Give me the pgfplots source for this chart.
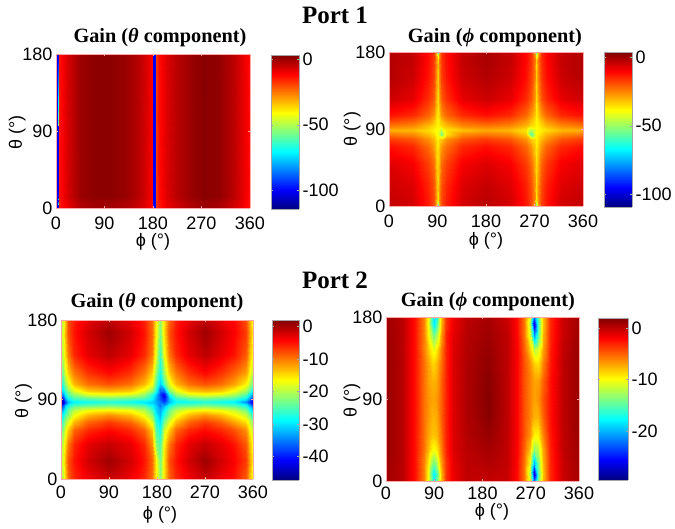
\documentclass[border=0pt]{standalone}
\usepackage{fontspec}
\setmainfont{Liberation Sans}
\newfontfamily\tnr{Liberation Serif}
\usepackage{pgfplots}
\pgfplotsset{compat=1.18}
\pgfplotsset{
  panel/.style={
    scale only axis, width=#1, view={0}{90},
    xmin=0, xmax=360, ymin=0, ymax=180,
    xtick={0,90,180,270,360}, ytick={0,90,180},
    axis on top, colormap/jet,
    /pgf/number format/assume math mode=true,
    tick align=inside, major tick length=2pt,
    axis line style={draw=red!35!white, line width=0.4pt},
    every tick/.style={draw=red!35!white, line width=0.3pt},
    tick label style={font=\fontsize{18}{20}\selectfont},
    every axis title shift=0pt,
    title style={font=\tnr\bfseries\fontsize{20.3}{22}\selectfont, anchor=center, yshift=-3pt},
    xlabel={ϕ (°)}, ylabel={θ (°)},
    label style={font=\fontsize{18}{20}\selectfont, anchor=center},
  },
  cbar/.style={
    scale only axis, view={0}{90}, colormap/jet, axis on top,
    xmin=0, xmax=1, xtick=\empty,
    ymajorticks=true, yticklabel pos=right, tick align=inside,
    major tick length=2pt,
    axis line style={draw=gray!70, line width=0.4pt},
    every tick/.style={draw=gray!70, line width=0.3pt},
    tick label style={font=\fontsize{18}{20}\selectfont},
    anchor=south west,
  },
}
\newcommand{\gtitle}[1]{Gain (\textit{#1} component)}
\begin{document}
\begin{tikzpicture}[x=1pt,y=1pt]
\useasboundingbox (0,0) rectangle (675,529);
\node[font=\tnr\bfseries\fontsize{25}{28}\selectfont] at (335,514) {Port 1};
\node[font=\tnr\bfseries\fontsize{25}{28}\selectfont] at (335,249) {Port 2};

% port 1, theta
\begin{axis}[panel=194pt, height=154pt, at={(56pt,321pt)}, anchor=south west,
  title={\gtitle{θ}}, title style={at={(axis description cs:0.536,1.123)}},
  xticklabel style={yshift=-5pt},
  xlabel style={at={(axis description cs:0.5,-0.22)}},
  ylabel style={at={(axis description cs:-0.2,0.49)}},
  point meta min=-114, point meta max=3]
\addplot3[surf, shader=interp, mesh/cols=25] table[row sep=\\] {
x y z\\
0 0 -100\\3.5 0 -100\\5 0 -15\\10 0 -13\\25 0 -8\\45 0 -2.5\\70 0 -0.5\\100 0 -0.5\\130 0 -2\\150 0 -5\\165 0 -8\\175 0 -11\\179.5 0 -14\\180 0 -100\\185.5 0 -100\\186.5 0 -18\\192 0 -14\\205 0 -9.5\\225 0 -5.5\\250 0 -2\\275 0 0\\300 0 -1\\330 0 -6\\350 0 -11\\360 0 -14\\
0 8 -100\\3.5 8 -100\\5 8 -15\\10 8 -13\\25 8 -8\\45 8 -2.5\\70 8 -0.5\\100 8 -0.5\\130 8 -2\\150 8 -5\\165 8 -8\\175 8 -11\\179.5 8 -14\\180 8 -100\\185.5 8 -100\\186.5 8 -18\\192 8 -14\\205 8 -9.5\\225 8 -5.5\\250 8 -2\\275 8 0\\300 8 -1\\330 8 -6\\350 8 -11\\360 8 -14\\
0 12 -100\\3.5 12 -100\\5 12 -14\\10 12 -12\\25 12 -6\\45 12 -0.5\\70 12 1.5\\100 12 1.5\\130 12 0\\150 12 -3\\165 12 -6.5\\175 12 -10\\179.5 12 -13\\180 12 -100\\185.5 12 -100\\186.5 12 -18\\192 12 -13\\205 12 -8\\225 12 -3.5\\250 12 0\\275 12 2\\300 12 1\\330 12 -4\\350 12 -10\\360 12 -13\\
0 180 -100\\3.5 180 -100\\5 180 -14\\10 180 -12\\25 180 -6\\45 180 -0.5\\70 180 1.5\\100 180 1.5\\130 180 0\\150 180 -3\\165 180 -6.5\\175 180 -10\\179.5 180 -13\\180 180 -100\\185.5 180 -100\\186.5 180 -18\\192 180 -13\\205 180 -8\\225 180 -3.5\\250 180 0\\275 180 2\\300 180 1\\330 180 -4\\350 180 -10\\360 180 -13\\
};
\end{axis}
\begin{axis}[cbar, width=28pt, height=154pt, at={(271pt,320pt)}, ymin=-114, ymax=3, ytick={-100,-50,0}, yticklabels={-100,-50,0}, point meta min=-114, point meta max=3]
\addplot3[surf, shader=interp, mesh/cols=2] table[row sep=\\] {
x y z\\
0 -114 -114\\1 -114 -114\\
0 3 3\\1 3 3\\
};
\end{axis}

% port 1, phi
\begin{axis}[panel=194pt, height=154pt, at={(389pt,323pt)}, anchor=south west,
  title={\gtitle{ϕ}}, title style={at={(axis description cs:0.546,1.11)}},
  xticklabel style={yshift=-5pt},
  xlabel style={at={(axis description cs:0.5,-0.227)}},
  ylabel style={at={(axis description cs:-0.19,0.5)}},
  point meta min=-109, point meta max=3.6]
\addplot3[surf, shader=interp, mesh/cols=21] table[row sep=\\] {
x y z\\
0 0 -4\\45 0 -6\\75 0 -14\\84 0 -19\\88 0 -32\\90 0 -60\\92 0 -32\\96 0 -19\\105 0 -14\\135 0 -6\\180 0 -3\\225 0 -6\\255 0 -13\\264 0 -18\\270 0 -32\\273 0 -60\\276 0 -32\\282 0 -18\\291 0 -13\\320 0 -6\\360 0 -4\\
0 2 -4\\45 2 -6\\75 2 -14\\84 2 -19\\88 2 -29\\90 2 -50\\92 2 -29\\96 2 -19\\105 2 -14\\135 2 -6\\180 2 -3\\225 2 -6\\255 2 -13\\264 2 -18\\270 2 -28\\273 2 -50\\276 2 -28\\282 2 -18\\291 2 -13\\320 2 -6\\360 2 -4\\
0 8 -4\\45 8 -6\\75 8 -14\\84 8 -19\\88 8 -27\\90 8 -36\\92 8 -27\\96 8 -19\\105 8 -14\\135 8 -6\\180 8 -3\\225 8 -6\\255 8 -13\\264 8 -18\\270 8 -26\\273 8 -36\\276 8 -26\\282 8 -18\\291 8 -13\\320 8 -6\\360 8 -4\\
0 25 -5\\45 25 -7\\75 25 -15\\84 25 -20\\88 25 -28\\90 25 -34\\92 25 -28\\96 25 -20\\105 25 -15\\135 25 -7\\180 25 -4\\225 25 -7\\255 25 -14\\264 25 -19\\270 25 -27\\273 25 -34\\276 25 -27\\282 25 -19\\291 25 -14\\320 25 -7\\360 25 -5\\
0 50 -7\\45 50 -10\\75 50 -18\\84 50 -23\\88 50 -31\\90 50 -35\\92 50 -31\\96 50 -23\\105 50 -18\\135 50 -10\\180 50 -7\\225 50 -10\\255 50 -17\\264 50 -22\\270 50 -30\\273 50 -35\\276 50 -30\\282 50 -22\\291 50 -17\\320 50 -10\\360 50 -7\\
0 70 -12\\45 70 -15\\75 70 -23\\84 70 -28\\88 70 -33\\90 70 -37\\92 70 -33\\96 70 -28\\105 70 -23\\135 70 -15\\180 70 -12\\225 70 -15\\255 70 -22\\264 70 -27\\270 70 -33\\273 70 -37\\276 70 -33\\282 70 -27\\291 70 -22\\320 70 -15\\360 70 -12\\
0 78 -17\\45 78 -20\\75 78 -27\\84 78 -31\\88 78 -35\\90 78 -38\\92 78 -35\\96 78 -33\\105 78 -27\\135 78 -20\\180 78 -17\\225 78 -20\\255 78 -27\\264 78 -33\\270 78 -35\\273 78 -38\\276 78 -35\\282 78 -31\\291 78 -27\\320 78 -20\\360 78 -17\\
0 84 -24\\45 84 -26\\75 84 -32\\84 84 -35\\88 84 -38\\90 84 -40\\92 84 -44\\96 84 -54\\105 84 -36\\135 84 -26\\180 84 -24\\225 84 -26\\255 84 -33\\264 84 -58\\270 84 -42\\273 84 -38\\276 84 -37\\282 84 -35\\291 84 -31\\320 84 -26\\360 84 -24\\
0 89 -30\\45 89 -31\\75 89 -35\\84 89 -38\\88 89 -39\\90 89 -40\\92 89 -40\\96 89 -45\\105 89 -36\\135 89 -32\\180 89 -29\\225 89 -31\\255 89 -36\\264 89 -48\\270 89 -41\\273 89 -40\\276 89 -38\\282 89 -37\\291 89 -35\\320 89 -31\\360 89 -30\\
0 94 -24\\45 94 -26\\75 94 -32\\84 94 -35\\88 94 -37\\90 94 -38\\92 94 -37\\96 94 -35\\105 94 -32\\135 94 -26\\180 94 -24\\225 94 -26\\255 94 -31\\264 94 -35\\270 94 -37\\273 94 -38\\276 94 -37\\282 94 -35\\291 94 -31\\320 94 -26\\360 94 -24\\
0 100 -17\\45 100 -20\\75 100 -26\\84 100 -31\\88 100 -35\\90 100 -38\\92 100 -35\\96 100 -31\\105 100 -26\\135 100 -20\\180 100 -17\\225 100 -20\\255 100 -26\\264 100 -31\\270 100 -35\\273 100 -38\\276 100 -35\\282 100 -31\\291 100 -26\\320 100 -20\\360 100 -17\\
0 106 -12\\45 106 -15\\75 106 -22\\84 106 -27\\88 106 -33\\90 106 -37\\92 106 -33\\96 106 -27\\105 106 -22\\135 106 -15\\180 106 -12\\225 106 -15\\255 106 -22\\264 106 -27\\270 106 -33\\273 106 -37\\276 106 -33\\282 106 -27\\291 106 -22\\320 106 -15\\360 106 -12\\
0 125 -5\\45 125 -8\\75 125 -16\\84 125 -21\\88 125 -29\\90 125 -35\\92 125 -29\\96 125 -21\\105 125 -16\\135 125 -8\\180 125 -5\\225 125 -8\\255 125 -15\\264 125 -20\\270 125 -28\\273 125 -35\\276 125 -28\\282 125 -20\\291 125 -15\\320 125 -8\\360 125 -5\\
0 150 -2\\45 150 -5\\75 150 -13\\84 150 -18\\88 150 -26\\90 150 -33\\92 150 -26\\96 150 -18\\105 150 -13\\135 150 -5\\180 150 -2\\225 150 -5\\255 150 -12\\264 150 -17\\270 150 -25\\273 150 -33\\276 150 -25\\282 150 -17\\291 150 -12\\320 150 -5\\360 150 -2\\
0 172 -2\\45 172 -4\\75 172 -12\\84 172 -17\\88 172 -25\\90 172 -34\\92 172 -25\\96 172 -17\\105 172 -12\\135 172 -4\\180 172 -1\\225 172 -4\\255 172 -11\\264 172 -16\\270 172 -24\\273 172 -34\\276 172 -24\\282 172 -16\\291 172 -11\\320 172 -4\\360 172 -2\\
0 178 -2\\45 178 -4\\75 178 -12\\84 178 -17\\88 178 -28\\90 178 -50\\92 178 -28\\96 178 -17\\105 178 -12\\135 178 -4\\180 178 -1\\225 178 -4\\255 178 -11\\264 178 -16\\270 178 -28\\273 178 -50\\276 178 -28\\282 178 -16\\291 178 -11\\320 178 -4\\360 178 -2\\
0 180 -2\\45 180 -4\\75 180 -12\\84 180 -17\\88 180 -32\\90 180 -60\\92 180 -32\\96 180 -17\\105 180 -12\\135 180 -4\\180 180 -1\\225 180 -4\\255 180 -11\\264 180 -16\\270 180 -32\\273 180 -60\\276 180 -32\\282 180 -16\\291 180 -11\\320 180 -4\\360 180 -2\\
};
\end{axis}
\begin{axis}[cbar, width=28pt, height=155pt, at={(604pt,322pt)}, ymin=-109, ymax=3.6, ytick={-100,-50,0}, yticklabels={-100,-50,0}, point meta min=-109, point meta max=3.6]
\addplot3[surf, shader=interp, mesh/cols=2] table[row sep=\\] {
x y z\\
0 -109 -109\\1 -109 -109\\
0 3.6 3.6\\1 3.6 3.6\\
};
\end{axis}

% port 2, theta
\begin{axis}[panel=192pt, height=159pt, at={(61pt,50pt)}, anchor=south west,
  title={\gtitle{θ}}, title style={at={(axis description cs:0.5,1.126)}},
  xticklabel style={yshift=-3pt},
  xlabel style={at={(axis description cs:0.516,-0.226)}},
  ylabel style={at={(axis description cs:-0.196,0.49)}},
  point meta min=-47.2, point meta max=2]
\addplot3[surf, shader=interp, mesh/cols=23] table[row sep=\\] {
x y z\\
0 0 -20.5\\3 0 -19.5\\7 0 -14.5\\13 0 -9\\25 0 -6\\50 0 -3.5\\90 0 -1.5\\130 0 -3.5\\155 0 -6\\170 0 -9.5\\178 0 -16\\186 0 -22\\194 0 -15\\202 0 -9\\215 0 -6\\240 0 -3.5\\270 0 -1.5\\300 0 -3.5\\325 0 -5\\347 0 -8.5\\353 0 -12.5\\358 0 -16.5\\360 0 -18.5\\
0 20 -19\\3 20 -18\\7 20 -13\\13 20 -8\\25 20 -5\\50 20 -2\\90 20 0.5\\130 20 -2\\155 20 -5\\170 20 -9\\178 20 -16\\186 20 -23\\194 20 -15\\202 20 -8\\215 20 -5\\240 20 -2\\270 20 0.5\\300 20 -2\\325 20 -4\\347 20 -7\\353 20 -11\\358 20 -15\\360 20 -17\\
0 40 -20\\3 40 -19\\7 40 -15\\13 40 -10\\25 40 -6\\50 40 -3\\90 40 -1.5\\130 40 -3\\155 40 -6\\170 40 -11\\178 40 -22\\186 40 -25\\194 40 -16\\202 40 -10\\215 40 -6\\240 40 -3\\270 40 -1.5\\300 40 -3\\325 40 -5\\347 40 -8.5\\353 40 -12.5\\358 40 -16\\360 40 -18\\
0 55 -23\\3 55 -22\\7 55 -18\\13 55 -14\\25 55 -9\\50 55 -6\\90 55 -4.5\\130 55 -6\\155 55 -9\\170 55 -14\\178 55 -25\\186 55 -28\\194 55 -19\\202 55 -14\\215 55 -9\\240 55 -6\\270 55 -4.5\\300 55 -6\\325 55 -8\\347 55 -11\\353 55 -15\\358 55 -19\\360 55 -21\\
0 65 -26\\3 65 -25\\7 65 -21\\13 65 -18\\25 65 -13\\50 65 -9\\90 65 -7\\130 65 -9\\155 65 -13\\170 65 -18\\178 65 -27\\186 65 -30\\194 65 -23\\202 65 -18\\215 65 -13\\240 65 -9\\270 65 -7\\300 65 -9\\325 65 -12\\347 65 -15\\353 65 -18\\358 65 -22\\360 65 -24\\
0 72 -29\\3 72 -28\\7 72 -25\\13 72 -22\\25 72 -17\\50 72 -13\\90 72 -11\\130 72 -13\\155 72 -17\\170 72 -22\\178 72 -29\\186 72 -32\\194 72 -27\\202 72 -22\\215 72 -17\\240 72 -13\\270 72 -11\\300 72 -13\\325 72 -16\\347 72 -19\\353 72 -22\\358 72 -26\\360 72 -28\\
0 78 -33\\3 78 -32\\7 78 -28\\13 78 -24\\25 78 -20\\50 78 -17\\90 78 -16\\130 78 -17\\155 78 -20\\170 78 -25\\178 78 -31\\186 78 -33\\194 78 -29\\202 78 -24\\215 78 -20\\240 78 -17\\270 78 -16\\300 78 -17\\325 78 -19\\347 78 -23\\353 78 -27\\358 78 -30\\360 78 -32\\
0 83 -38\\3 83 -36\\7 83 -31\\13 83 -27\\25 83 -24\\50 83 -23\\90 83 -22\\130 83 -23\\155 83 -24\\170 83 -28\\178 83 -31\\186 83 -35\\194 83 -32\\202 83 -27\\215 83 -24\\240 83 -23\\270 83 -22\\300 83 -23\\325 83 -24\\347 83 -27\\353 83 -31\\358 83 -35\\360 83 -37\\
0 87 -46\\3 87 -44\\7 87 -38\\13 87 -32\\25 87 -29\\50 87 -28\\90 87 -27\\130 87 -28\\155 87 -30\\170 87 -31\\178 87 -33\\186 87 -35\\194 87 -38\\202 87 -32\\215 87 -28\\240 87 -28\\270 87 -27\\300 87 -28\\325 87 -29\\347 87 -34\\353 87 -38\\358 87 -42\\360 87 -44\\
0 90 -42\\3 90 -40\\7 90 -34\\13 90 -29\\25 90 -26\\50 90 -25\\90 90 -24\\130 90 -25\\155 90 -26\\170 90 -29\\178 90 -33\\186 90 -37\\194 90 -40\\202 90 -32\\215 90 -27\\240 90 -25\\270 90 -24\\300 90 -25\\325 90 -26\\347 90 -30\\353 90 -34\\358 90 -38\\360 90 -40\\
0 95 -35\\3 95 -34\\7 95 -29\\13 95 -25\\25 95 -22\\50 95 -19\\90 95 -18\\130 95 -19\\155 95 -22\\170 95 -27\\178 95 -32\\186 95 -38\\194 95 -42\\202 95 -29\\215 95 -22\\240 95 -19\\270 95 -18\\300 95 -19\\325 95 -21\\347 95 -25\\353 95 -29\\358 95 -33\\360 95 -35\\
0 100 -31\\3 100 -30\\7 100 -26\\13 100 -22\\25 100 -18\\50 100 -14\\90 100 -13\\130 100 -14\\155 100 -18\\170 100 -22\\178 100 -28\\186 100 -36\\194 100 -36\\202 100 -23\\215 100 -18\\240 100 -14\\270 100 -13\\300 100 -14\\325 100 -17\\347 100 -21\\353 100 -24\\358 100 -28\\360 100 -30\\
0 108 -27\\3 108 -26\\7 108 -22\\13 108 -18\\25 108 -13\\50 108 -9.5\\90 108 -8\\130 108 -9.5\\155 108 -13\\170 108 -17\\178 108 -25\\186 108 -31\\194 108 -25\\202 108 -18\\215 108 -13\\240 108 -9.5\\270 108 -8\\300 108 -9.5\\325 108 -12\\347 108 -16\\353 108 -19\\358 108 -23\\360 108 -25\\
0 120 -23.5\\3 120 -22.5\\7 120 -18\\13 120 -14\\25 120 -10\\50 120 -6.5\\90 120 -4.5\\130 120 -6.5\\155 120 -10\\170 120 -14\\178 120 -22\\186 120 -28\\194 120 -21\\202 120 -14\\215 120 -10\\240 120 -6.5\\270 120 -4.5\\300 120 -6.5\\325 120 -9\\347 120 -12\\353 120 -15.5\\358 120 -19.5\\360 120 -21.5\\
0 140 -20\\3 140 -19\\7 140 -15\\13 140 -10\\25 140 -6\\50 140 -3\\90 140 -1\\130 140 -3\\155 140 -6\\170 140 -10\\178 140 -18\\186 140 -26\\194 140 -17\\202 140 -10\\215 140 -6\\240 140 -3\\270 140 -1\\300 140 -3\\325 140 -5\\347 140 -8.5\\353 140 -12.5\\358 140 -16\\360 140 -18\\
0 165 -19\\3 165 -18\\7 165 -13\\13 165 -8\\25 165 -5\\50 165 -2\\90 165 0.5\\130 165 -2\\155 165 -5\\170 165 -9\\178 165 -16\\186 165 -23\\194 165 -15\\202 165 -8\\215 165 -5\\240 165 -2\\270 165 0.5\\300 165 -2\\325 165 -4\\347 165 -7\\353 165 -11\\358 165 -15\\360 165 -17\\
0 180 -20\\3 180 -19\\7 180 -14\\13 180 -8\\25 180 -5.5\\50 180 -3\\90 180 -1\\130 180 -3\\155 180 -5.5\\170 180 -9.5\\178 180 -16\\186 180 -22\\194 180 -15\\202 180 -9\\215 180 -5.5\\240 180 -3\\270 180 -1\\300 180 -3\\325 180 -4.5\\347 180 -8\\353 180 -12\\358 180 -16\\360 180 -18\\
};
\end{axis}
\begin{axis}[cbar, width=27pt, height=160pt, at={(272pt,49pt)}, ymin=-47.2, ymax=2, ytick={-40,-30,-20,-10,0}, yticklabels={-40,-30,-20,-10,0}, point meta min=-47.2, point meta max=2]
\addplot3[surf, shader=interp, mesh/cols=2] table[row sep=\\] {
x y z\\
0 -47.2 -47.2\\1 -47.2 -47.2\\
0 2 2\\1 2 2\\
};
\end{axis}

% port 2, phi
\begin{axis}[panel=193pt, height=164pt, at={(386pt,48pt)}, anchor=south west,
  title={\gtitle{ϕ}}, title style={at={(axis description cs:0.528,1.11)}},
  xticklabel style={yshift=-2pt},
  xlabel style={at={(axis description cs:0.549,-0.19)}},
  ylabel style={at={(axis description cs:-0.176,0.49)}},
  point meta min=-29.4, point meta max=1.9]
\addplot3[surf, shader=interp, mesh/cols=23] table[row sep=\\] {
x y z\\
0 0 0.8\\30 0 0.2\\55 0 -2.5\\70 0 -6\\78 0 -10\\85 0 -15\\90 0 -17\\95 0 -14\\102 0 -8\\112 0 -3.5\\125 0 -1.5\\150 0 -0.1\\190 0 -0.2\\225 0 -0.3\\245 0 -2.3\\258 0 -5.5\\268 0 -11\\276 0 -22\\284 0 -14\\292 0 -7.5\\305 0 -3.3\\330 0 -0.3\\360 0 0.7\\
0 8 0.9\\30 8 0.2\\55 8 -2.5\\70 8 -6\\78 8 -10\\85 8 -16\\90 8 -18\\95 8 -15\\102 8 -8\\112 8 -3.5\\125 8 -1.5\\150 8 -0.1\\190 8 0\\225 8 -0.3\\245 8 -2.3\\258 8 -5.5\\268 8 -12\\276 8 -27\\284 8 -15\\292 8 -8\\305 8 -3.3\\330 8 -0.3\\360 8 0.8\\
0 20 1\\30 20 0.2\\55 20 -2.5\\70 20 -6\\78 20 -9\\85 20 -13\\90 20 -14\\95 20 -12\\102 20 -7\\112 20 -3.5\\125 20 -1.3\\150 20 0\\190 20 0.4\\225 20 -0.2\\245 20 -2.2\\258 20 -5.5\\268 20 -10\\276 20 -20\\284 20 -14\\292 20 -7.5\\305 20 -3.2\\330 20 -0.3\\360 20 0.9\\
0 35 1.2\\30 35 0.2\\55 35 -2.5\\70 35 -5.5\\78 35 -7.5\\85 35 -9.5\\90 35 -10\\95 35 -9\\102 35 -6\\112 35 -3\\125 35 -1\\150 35 0.1\\190 35 0.8\\225 35 -0.1\\245 35 -2\\258 35 -5\\268 35 -8\\276 35 -13\\284 35 -12\\292 35 -7\\305 35 -3\\330 35 -0.1\\360 35 1\\
0 50 1.2\\30 50 0.2\\55 50 -2.5\\70 50 -5.5\\78 50 -7\\85 50 -8\\90 50 -8\\95 50 -7.5\\102 50 -5.5\\112 50 -3\\125 50 -1\\150 50 0.3\\190 50 1.2\\225 50 -0.1\\245 50 -2\\258 50 -4.5\\268 50 -6.5\\276 50 -9.5\\284 50 -9.5\\292 50 -6\\305 50 -2.8\\330 50 -0.1\\360 50 1.2\\
0 70 1.2\\30 70 0.2\\55 70 -2.5\\70 70 -5.5\\78 70 -6.5\\85 70 -7.5\\90 70 -7.5\\95 70 -7\\102 70 -5\\112 70 -3\\125 70 -1\\150 70 0.4\\190 70 1.6\\225 70 0\\245 70 -2\\258 70 -4.5\\268 70 -6\\276 70 -7.5\\284 70 -7.5\\292 70 -5\\305 70 -2.5\\330 70 0\\360 70 1.2\\
0 90 1.2\\30 90 0.2\\55 90 -2.5\\70 90 -5.5\\78 90 -6.5\\85 90 -7\\90 90 -7\\95 90 -6.5\\102 90 -5\\112 90 -3\\125 90 -1\\150 90 0.4\\190 90 1.7\\225 90 0\\245 90 -2\\258 90 -4.5\\268 90 -6\\276 90 -7\\284 90 -6.5\\292 90 -4.5\\305 90 -2.5\\330 90 0\\360 90 1.2\\
0 110 1.2\\30 110 0.2\\55 110 -2.5\\70 110 -5.5\\78 110 -6.8\\85 110 -7.5\\90 110 -7.5\\95 110 -7\\102 110 -5\\112 110 -3\\125 110 -1\\150 110 0.4\\190 110 1.6\\225 110 0\\245 110 -2\\258 110 -4.5\\268 110 -6\\276 110 -7\\284 110 -7\\292 110 -5\\305 110 -2.5\\330 110 0\\360 110 1.2\\
0 130 1.2\\30 130 0.2\\55 130 -2.5\\70 130 -5.5\\78 130 -7\\85 130 -8.5\\90 130 -8.5\\95 130 -7.5\\102 130 -5.5\\112 130 -3\\125 130 -1\\150 130 0.4\\190 130 1.4\\225 130 0\\245 130 -2\\258 130 -4.5\\268 130 -6.5\\276 130 -8.5\\284 130 -9\\292 130 -6\\305 130 -2.8\\330 130 0\\360 130 1.2\\
0 145 1.2\\30 145 0.2\\55 145 -2.5\\70 145 -6\\78 145 -8\\85 145 -10\\90 145 -10.5\\95 145 -9\\102 145 -6\\112 145 -3\\125 145 -1\\150 145 0.3\\190 145 1.2\\225 145 0\\245 145 -2\\258 145 -5\\268 145 -8.5\\276 145 -12\\284 145 -11\\292 145 -7\\305 145 -3\\330 145 -0.1\\360 145 1.2\\
0 160 1.1\\30 160 0.2\\55 160 -2.5\\70 160 -6\\78 160 -9.5\\85 160 -13\\90 160 -14\\95 160 -12\\102 160 -7\\112 160 -3\\125 160 -1.2\\150 160 0.2\\190 160 1\\225 160 -0.1\\245 160 -2.2\\258 160 -5.5\\268 160 -11\\276 160 -21\\284 160 -15\\292 160 -7.5\\305 160 -3.2\\330 160 -0.3\\360 160 1\\
0 172 1\\30 172 0.2\\55 172 -2.5\\70 172 -6\\78 172 -10\\85 172 -16\\90 172 -18\\95 172 -15\\102 172 -8\\112 172 -3.5\\125 172 -1.5\\150 172 0.1\\190 172 0.8\\225 172 -0.3\\245 172 -2.3\\258 172 -5.5\\268 172 -12\\276 172 -27\\284 172 -16\\292 172 -8\\305 172 -3.3\\330 172 -0.3\\360 172 0.9\\
0 180 0.9\\30 180 0.2\\55 180 -2.5\\70 180 -6\\78 180 -10\\85 180 -16\\90 180 -19\\95 180 -16\\102 180 -8\\112 180 -3.5\\125 180 -1.5\\150 180 0\\190 180 0.7\\225 180 -0.3\\245 180 -2.3\\258 180 -5.5\\268 180 -11\\276 180 -22\\284 180 -15\\292 180 -8\\305 180 -3.3\\330 180 -0.3\\360 180 0.8\\
};
\end{axis}
\begin{axis}[cbar, width=30pt, height=162pt, at={(598pt,49pt)}, ymin=-29.4, ymax=1.9, ytick={-20,-10,0}, yticklabels={-20,-10,0}, point meta min=-29.4, point meta max=1.9]
\addplot3[surf, shader=interp, mesh/cols=2] table[row sep=\\] {
x y z\\
0 -29.4 -29.4\\1 -29.4 -29.4\\
0 1.9 1.9\\1 1.9 1.9\\
};
\end{axis}
\end{tikzpicture}
\end{document}
